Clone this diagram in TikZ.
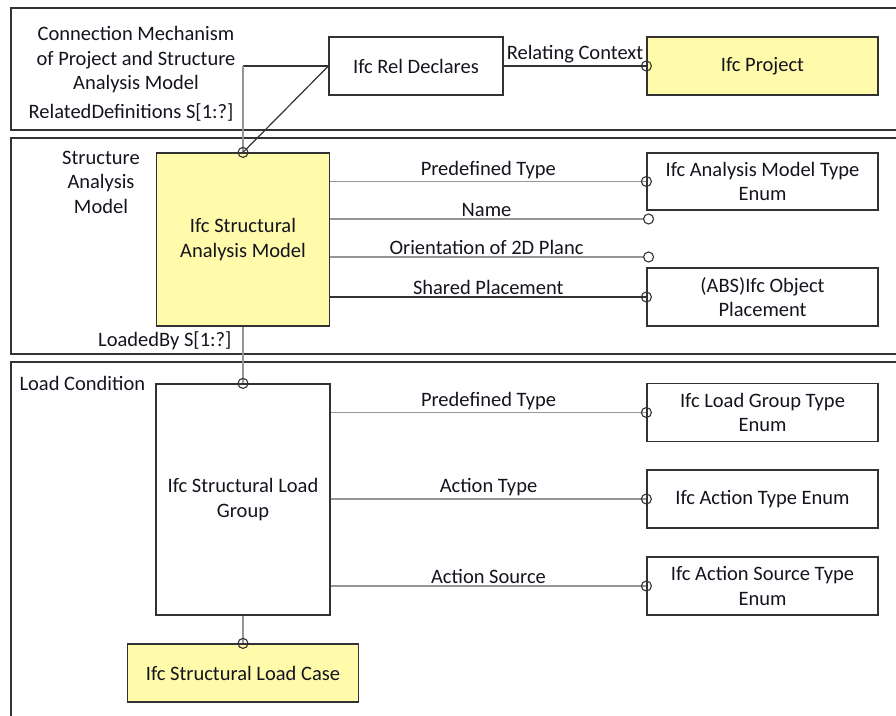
\documentclass[tikz,border=0pt]{standalone}
\usepackage{fontspec}
\setmainfont{Carlito}
\usetikzlibrary{positioning,calc}
\definecolor{entityyellow}{RGB}{255,251,170}
\definecolor{framegray}{RGB}{50,50,50}
\definecolor{attrgray}{RGB}{150,150,150}
\definecolor{inkblack}{RGB}{20,20,30}

\begin{document}
\begin{tikzpicture}[x=1pt,y=-1pt,
		font=\fontsize{20.5}{24.5}\selectfont, text=inkblack,
		entity/.style={draw=framegray, line width=1.2pt, align=center, inner sep=2pt},
		yellowbox/.style={entity, fill=entityyellow},
		knob/.style={circle, draw=framegray, line width=1.1pt, inner sep=0pt, minimum size=10pt},
		link/.style={draw=framegray, line width=1.2pt},
		attr/.style={draw=attrgray, line width=1.6pt},
		tag/.style={above, inner sep=2pt}]
	\useasboundingbox (0,0) rectangle (896,715);
	\clip (0,0) rectangle (896,715);

	% frames
	\draw[framegray, line width=1.3pt] (11,8) rectangle (930,130);
	\draw[framegray, line width=1.3pt] (11,138) rectangle (930,354);
	\draw[framegray, line width=1.3pt] (11,362) rectangle (930,760);

	% Project level
	\node[align=center] (connlbl) at (136,60) {Connection Mechanism\\of Project and Structure\\Analysis Model};
	\node[anchor=east] (reldef) at (237,112) {RelatedDefinitions S[1:?]};
	\node[entity, minimum width=174pt, minimum height=58pt] (decl) at (416,66) {Ifc Rel Declares};
	\node[yellowbox, minimum width=231pt, minimum height=58pt] (proj) at (762.5,66) {Ifc Project};
	\draw[link] (decl.east) -- (proj.west) node[knob] {} node[tag, midway] {Relating Context};

	% Structure analysis model
	\node[align=center] (samlbl) at (101,182) {Structure\\Analysis\\Model};
	\node[yellowbox, minimum width=173pt, minimum height=173pt] (sam) at (243,239.5) {Ifc Structural\\Analysis Model};
	\coordinate (bend) at (decl.west -| sam.north);
	\draw[link] (decl.west) -- (bend);
	\draw[attr] (bend) -- (sam.north);
	\draw[link] (decl.west) -- (sam.north) node[knob] {};

	\node[entity, minimum width=231pt, minimum height=57pt] (modelenum) at (762.5,181.5) {Ifc Analysis Model Type\\Enum};
	\node[entity, minimum width=231pt, minimum height=58pt] (placement) at (762.5,297) {(ABS)Ifc Object\\Placement};
	\coordinate (nameend) at (643,219);
	\coordinate (orientend) at (643,257);
	\draw[attr] (sam.east |- modelenum.west) -- (modelenum.west) node[knob] {} node[tag, midway] {Predefined Type};
	\draw[attr] (sam.east |- nameend) -- (nameend) node[knob, anchor=west] {} node[tag, midway] {Name};
	\draw[attr] (sam.east |- orientend) -- (orientend) node[knob, anchor=west] {} node[tag, midway] {Orientation of 2D Planc};
	\draw[link] (sam.east |- placement.west) -- (placement.west) node[knob] {} node[tag, midway] {Shared Placement};

	% Load condition
	\node[anchor=east] (loadedby) at (235,341) {LoadedBy S[1:?]};
	\node[anchor=west] (loadlbl) at (16,383) {Load Condition};
	\node[entity, minimum width=174pt, minimum height=231pt] (group) at (243,499.5) {Ifc Structural Load\\Group};
	\node[yellowbox, minimum width=231pt, minimum height=58pt] (loadcase) at (243,673) {Ifc Structural Load Case};
	\draw[attr] (sam.south) -- (group.north) node[knob] {};
	\draw[attr] (group.south) -- (loadcase.north) node[knob] {};

	\foreach \name/\y/\txt/\lbl in {grpenum/412.5/{Ifc Load Group Type\\Enum}/Predefined Type,
			actenum/499/{Ifc Action Type Enum}/Action Type,
			srcenum/586/{Ifc Action Source Type\\Enum}/Action Source} {
		\node[entity, minimum width=231pt, minimum height=58pt] (\name) at (762.5,\y) {\txt};
		\draw[attr] (group.east |- \name.west) -- (\name.west) node[knob] {} node[tag, midway] {\lbl};
	}
\end{tikzpicture}
\end{document}
